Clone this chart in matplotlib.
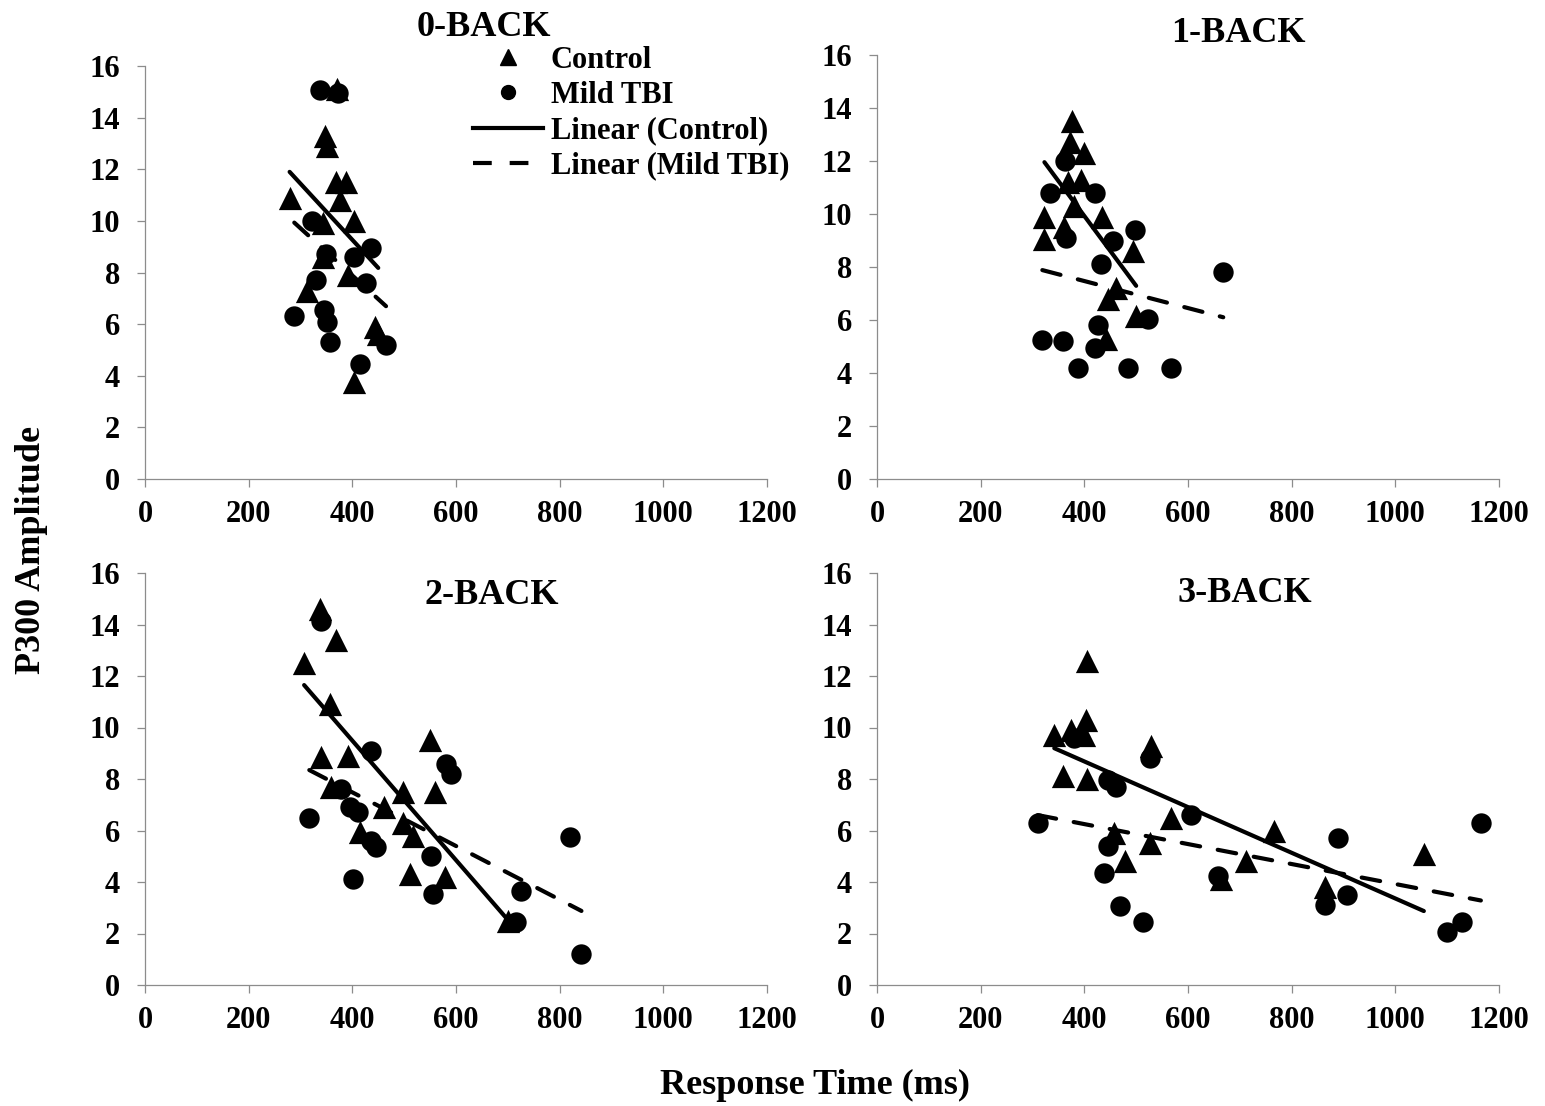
import matplotlib
matplotlib.use("Agg")
import matplotlib.pyplot as plt
from matplotlib.lines import Line2D
import numpy as np

plt.rcParams['font.family'] = ['Liberation Serif', 'DejaVu Serif']
plt.rcParams['font.weight'] = 'bold'

titles = ["0-BACK", "1-BACK", "2-BACK", "3-BACK"]
x_ticks = [0, 200, 400, 600, 800, 1000, 1200]
y_ticks = [0, 2, 4, 6, 8, 10, 12, 14, 16]

# 0-BACK
ctrl0_x = [370, 348, 352, 279, 368, 387, 377, 404, 343, 343, 391, 313, 443, 404, 450]
ctrl0_y = [15.1, 13.3, 12.9, 10.9, 11.5, 11.5, 10.8, 10.0, 9.9, 8.6, 7.9, 7.3, 5.9, 3.75, 5.6]
tbi0_x = [337, 372, 323, 404, 436, 350, 329, 426, 288, 346, 352, 356, 465, 414]
tbi0_y = [15.07, 14.95, 10.0, 8.6, 8.95, 8.7, 7.7, 7.6, 6.3, 6.55, 6.1, 5.3, 5.2, 4.45]

# 1-BACK
ctrl1_x = [377, 372, 400, 368, 393, 381, 323, 323, 435, 361, 493, 461, 445, 500, 441]
ctrl1_y = [13.5, 12.7, 12.3, 11.2, 11.3, 10.3, 9.9, 9.05, 9.9, 9.5, 8.6, 7.2, 6.8, 6.15, 5.3]
tbi1_x = [362, 333, 420, 364, 497, 455, 432, 668, 522, 426, 319, 358, 420, 387, 484, 567]
tbi1_y = [12.0, 10.8, 10.8, 9.1, 9.4, 9.0, 8.1, 7.8, 6.05, 5.8, 5.25, 5.2, 4.95, 4.2, 4.2, 4.2]

# 2-BACK
ctrl2_x = [337, 368, 307, 356, 339, 391, 549, 358, 497, 559, 462, 497, 517, 414, 511, 578, 700]
ctrl2_y = [14.6, 13.4, 12.5, 10.9, 8.85, 8.9, 9.5, 7.7, 7.5, 7.5, 6.9, 6.3, 5.8, 5.95, 4.3, 4.2, 2.5]
tbi2_x = [339, 436, 581, 591, 378, 396, 410, 317, 436, 446, 552, 401, 556, 820, 726, 716, 842]
tbi2_y = [14.15, 9.1, 8.6, 8.2, 7.6, 6.9, 6.7, 6.5, 5.6, 5.35, 5.0, 4.1, 3.55, 5.75, 3.65, 2.45, 1.2]

# 3-BACK
ctrl3_x = [406, 403, 374, 342, 400, 529, 358, 406, 567, 765, 458, 526, 478, 712, 664, 865, 1055]
ctrl3_y = [12.6, 10.3, 9.9, 9.7, 9.7, 9.3, 8.1, 8.0, 6.5, 6.0, 5.9, 5.5, 4.8, 4.8, 4.1, 3.8, 5.1]
tbi3_x = [310, 381, 526, 445, 461, 606, 890, 1165, 445, 437, 658, 468, 513, 865, 906, 1129, 1099]
tbi3_y = [6.3, 9.6, 8.8, 7.95, 7.7, 6.6, 5.7, 6.3, 5.4, 4.35, 4.25, 3.05, 2.45, 3.1, 3.5, 2.45, 2.05]

# Linear trend lines (slope, intercept)
ctrl_slope = [-0.02176, -0.02636, -0.0232, -0.00887]
ctrl_icpt = [17.97, 20.47, 18.77, 12.23]
tbi_slope = [-0.01829, -0.0051, -0.01042, -0.003878]
tbi_icpt = [15.2, 9.51, 11.65, 7.80]

ctrl_x = [ctrl0_x, ctrl1_x, ctrl2_x, ctrl3_x]
ctrl_y = [ctrl0_y, ctrl1_y, ctrl2_y, ctrl3_y]
tbi_x = [tbi0_x, tbi1_x, tbi2_x, tbi3_x]
tbi_y = [tbi0_y, tbi1_y, tbi2_y, tbi3_y]

W, H = 1545, 1106
fig = plt.figure(figsize=(W / 100, H / 100), dpi=100)

# axes boxes in pixels: left, right, top, bottom
boxes = [(145, 767, 66, 479), (877, 1499, 55, 479),
         (145, 767, 573, 985), (877, 1499, 573, 985)]
title_pos = [(484, 28), (1238, 34), (492, 596), (1245, 594)]

axis_gray = '#8c8c8c'
lw_trend = 3.0

for i in range(4):
    l, r, t, b = boxes[i]
    ax = fig.add_axes([l / W, 1 - b / H, (r - l) / W, (b - t) / H])
    ax.scatter(ctrl_x[i], ctrl_y[i], marker='^', s=280, color='black',
               linewidths=0, zorder=3, clip_on=False)
    ax.scatter(tbi_x[i], tbi_y[i], marker='o', s=215, color='black',
               linewidths=0, zorder=3, clip_on=False)
    cx = np.array([min(ctrl_x[i]), max(ctrl_x[i])])
    ax.plot(cx, ctrl_slope[i] * cx + ctrl_icpt[i], color='black',
            lw=lw_trend, solid_capstyle='round', zorder=4)
    tx = np.array([min(tbi_x[i]), max(tbi_x[i])])
    ax.plot(tx, tbi_slope[i] * tx + tbi_icpt[i], color='black',
            lw=lw_trend, dashes=(4.5, 4.3), dash_capstyle='round', zorder=4)
    ax.set_xlim(0, 1200)
    ax.set_ylim(0, 16)
    ax.set_xticks(x_ticks)
    ax.set_yticks(y_ticks)
    for s in ['top', 'right']:
        ax.spines[s].set_visible(False)
    for s in ['left', 'bottom']:
        ax.spines[s].set_color(axis_gray)
        ax.spines[s].set_linewidth(0.9)
    ax.tick_params(axis='both', direction='out', length=6, width=0.9,
                   color=axis_gray, labelsize=22)
    ax.tick_params(axis='y', pad=12)
    ax.tick_params(axis='x', pad=9)
    for lab in ax.get_xticklabels() + ax.get_yticklabels():
        lab.set_fontweight('bold')
    fig.text(title_pos[i][0] / W, 1 - title_pos[i][1] / H, titles[i],
             ha='center', va='center', fontsize=26, fontweight='bold')

handles = [
    Line2D([], [], marker='^', color='black', linestyle='None', markersize=11),
    Line2D([], [], marker='o', color='black', linestyle='None', markersize=10),
    Line2D([], [], color='black', lw=lw_trend),
    Line2D([], [], color='black', lw=lw_trend, dashes=(4.5, 4.3)),
]
labels = ["Control", "Mild TBI", "Linear (Control)", "Linear (Mild TBI)"]
fig.legend(handles, labels, loc='upper left',
           bbox_to_anchor=(473 / W, 1 - 46 / H), frameon=False,
           handlelength=2.3, handletextpad=0.25,
           labelspacing=0.2, borderpad=0, borderaxespad=0,
           prop={'weight': 'bold', 'size': 22})

fig.text(32 / W, 1 - 550 / H, "P300 Amplitude", rotation=90,
         ha='center', va='center', fontsize=26, fontweight='bold')
fig.text(815 / W, 1 - 1085 / H, "Response Time (ms)",
         ha='center', va='center', fontsize=26, fontweight='bold')

fig.savefig("out.png", dpi=100)
